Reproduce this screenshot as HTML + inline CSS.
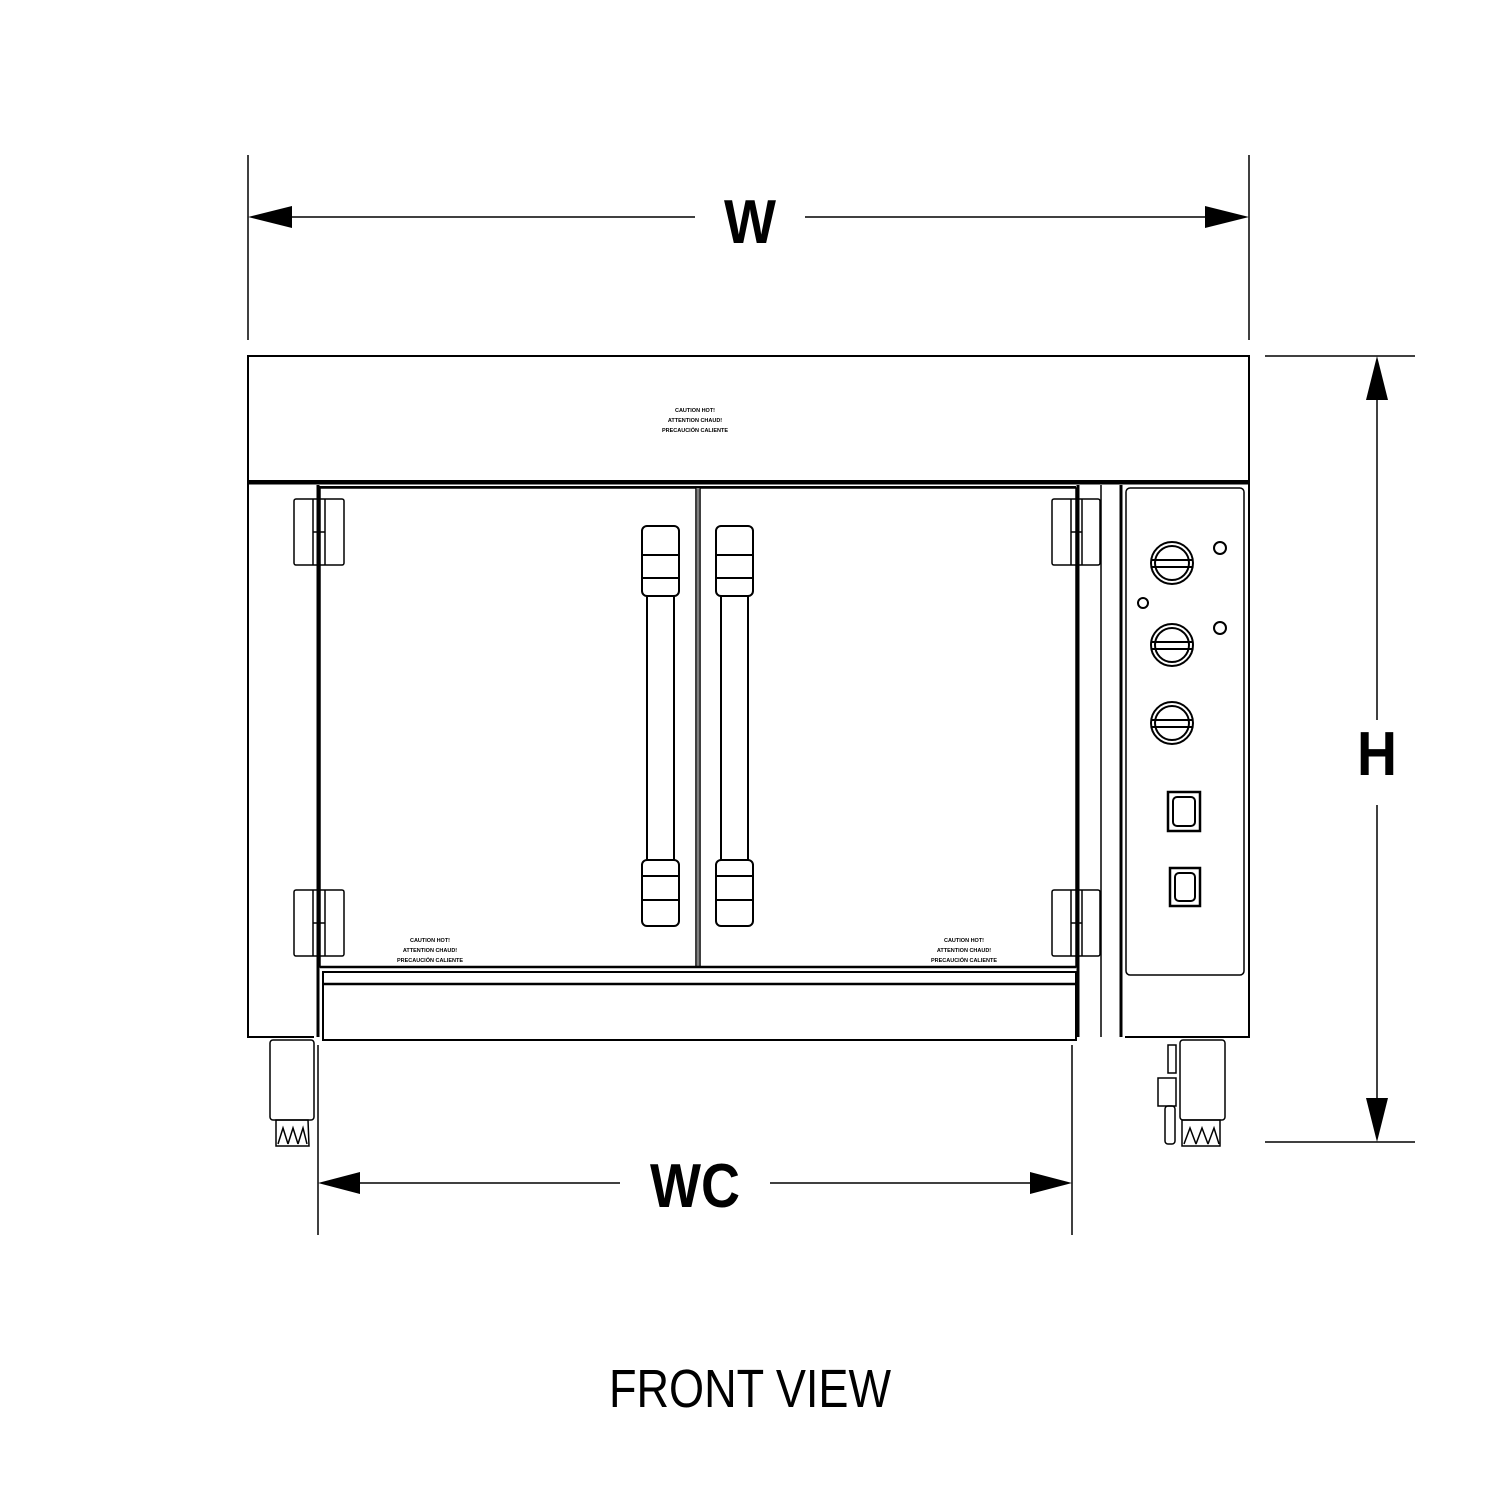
<!DOCTYPE html>
<html><head><style>html,body{margin:0;padding:0;background:#fff}svg{display:block}</style></head><body>
<svg width="1500" height="1500" viewBox="0 0 1500 1500" xmlns="http://www.w3.org/2000/svg" font-family="Liberation Sans, sans-serif">
<g stroke="#000" fill="none" stroke-width="1.5">
<line x1="248" y1="155" x2="248" y2="340"/><line x1="1249" y1="155" x2="1249" y2="340"/>
<line x1="290" y1="217" x2="695" y2="217"/><line x1="805" y1="217" x2="1207" y2="217"/>
<line x1="1265" y1="356" x2="1415" y2="356"/><line x1="1265" y1="1142" x2="1415" y2="1142"/>
<line x1="1377" y1="398" x2="1377" y2="720"/><line x1="1377" y1="805" x2="1377" y2="1100"/>
<line x1="318" y1="1045" x2="318" y2="1235"/><line x1="1072" y1="1045" x2="1072" y2="1235"/>
<line x1="358" y1="1183" x2="620" y2="1183"/><line x1="770" y1="1183" x2="1032" y2="1183"/>
</g>
<g fill="#000">
<polygon points="248,217 292,206 292,228"/><polygon points="1249,217 1205,206 1205,228"/>
<polygon points="1377,356 1366,400 1388,400"/><polygon points="1377,1142 1366,1098 1388,1098"/>
<polygon points="318,1183 360,1172 360,1194"/><polygon points="1072,1183 1030,1172 1030,1194"/>
</g>
<g font-weight="bold" text-anchor="middle" font-size="62">
<text x="750" y="243" textLength="52" lengthAdjust="spacingAndGlyphs">W</text>
<text x="1377" y="775" textLength="40" lengthAdjust="spacingAndGlyphs">H</text>
<text x="695" y="1207" textLength="90" lengthAdjust="spacingAndGlyphs">WC</text>
</g>
<text x="750" y="1407" font-size="54" text-anchor="middle" textLength="282" lengthAdjust="spacingAndGlyphs">FRONT VIEW</text>

<g stroke="#000" fill="none" stroke-width="2">
<rect x="248" y="356" width="1001" height="125"/>
<line x1="248" y1="483" x2="1249" y2="483" stroke-width="3"/>
<polyline points="248,481 248,1037 314,1037"/>
<polyline points="1249,481 1249,1037 1125,1037"/>
<line x1="318" y1="485" x2="318" y2="1037" stroke-width="3"/>
<line x1="319" y1="487" x2="1076" y2="487" stroke-width="2"/>
<rect x="320" y="488" width="376" height="479" stroke-width="1.5"/>
<rect x="700" y="488" width="376" height="479" stroke-width="1.5"/>
<line x1="698" y1="488" x2="698" y2="967" stroke-width="1"/>
<line x1="320" y1="967" x2="1076" y2="967" stroke-width="2.5"/>
<line x1="1078" y1="485" x2="1078" y2="1037" stroke-width="3"/>
<line x1="1101" y1="485" x2="1101" y2="1037" stroke-width="1.5"/>
<line x1="1121" y1="485" x2="1121" y2="1037" stroke-width="3"/>
<rect x="323" y="972" width="753" height="68"/>
<line x1="323" y1="984" x2="1076" y2="984" stroke-width="2.5"/>
<rect x="1126" y="488" width="118" height="487" rx="4" stroke-width="1.5"/>
<g stroke-width="1.5">
<rect x="294" y="499" width="50" height="66" rx="2"/><line x1="313" y1="499" x2="313" y2="565"/><line x1="325" y1="499" x2="325" y2="565"/><line x1="313" y1="532" x2="325" y2="532"/>
<rect x="294" y="890" width="50" height="66" rx="2"/><line x1="313" y1="890" x2="313" y2="956"/><line x1="325" y1="890" x2="325" y2="956"/><line x1="313" y1="923" x2="325" y2="923"/>
<rect x="1052" y="499" width="48" height="66" rx="2"/><line x1="1071" y1="499" x2="1071" y2="565"/><line x1="1082" y1="499" x2="1082" y2="565"/><line x1="1071" y1="532" x2="1082" y2="532"/>
<rect x="1052" y="890" width="48" height="66" rx="2"/><line x1="1071" y1="890" x2="1071" y2="956"/><line x1="1082" y1="890" x2="1082" y2="956"/><line x1="1071" y1="923" x2="1082" y2="923"/>
</g>
<g stroke-width="2">
<rect x="642" y="526" width="37" height="70" rx="5"/><rect x="642" y="860" width="37" height="66" rx="5"/>
<line x1="647" y1="596" x2="647" y2="860"/><line x1="674" y1="596" x2="674" y2="860"/>
<line x1="642" y1="555" x2="679" y2="555"/><line x1="642" y1="578" x2="679" y2="578"/>
<line x1="642" y1="876" x2="679" y2="876"/><line x1="642" y1="900" x2="679" y2="900"/>
<rect x="716" y="526" width="37" height="70" rx="5"/><rect x="716" y="860" width="37" height="66" rx="5"/>
<line x1="721" y1="596" x2="721" y2="860"/><line x1="748" y1="596" x2="748" y2="860"/>
<line x1="716" y1="555" x2="753" y2="555"/><line x1="716" y1="578" x2="753" y2="578"/>
<line x1="716" y1="876" x2="753" y2="876"/><line x1="716" y1="900" x2="753" y2="900"/>
</g>
<g stroke-width="2">
<circle cx="1172" cy="563" r="21"/><circle cx="1172" cy="563" r="17"/><line x1="1152" y1="560" x2="1192" y2="560"/><line x1="1152" y1="567" x2="1192" y2="567"/>
<circle cx="1172" cy="645" r="21"/><circle cx="1172" cy="645" r="17"/><line x1="1152" y1="642" x2="1192" y2="642"/><line x1="1152" y1="649" x2="1192" y2="649"/>
<circle cx="1172" cy="723" r="21"/><circle cx="1172" cy="723" r="17"/><line x1="1152" y1="720" x2="1192" y2="720"/><line x1="1152" y1="727" x2="1192" y2="727"/>
<circle cx="1220" cy="548" r="6"/><circle cx="1143" cy="603" r="5"/><circle cx="1220" cy="628" r="6"/>
<rect x="1168" y="792" width="32" height="39" stroke-width="2.5"/><rect x="1173" y="797" width="22" height="29" rx="4"/>
<rect x="1170" y="868" width="30" height="38" stroke-width="2.5"/><rect x="1175" y="873" width="20" height="28" rx="4"/>
</g>
<g stroke-width="1.5">
<rect x="270" y="1040" width="44" height="80" rx="3"/>
<path d="M276 1120 L308 1120 L309 1146 L276 1146 Z"/>
<path d="M278 1144 L283 1128 L288 1144 M288 1144 L293 1128 L298 1144 M298 1144 L303 1128 L307 1144"/>
<rect x="1180" y="1040" width="45" height="80" rx="3"/>
<path d="M1182 1120 L1220 1120 L1220 1146 L1182 1146 Z"/>
<path d="M1184 1144 L1190 1128 L1196 1144 M1196 1144 L1202 1128 L1208 1144 M1208 1144 L1214 1128 L1219 1144"/>
<rect x="1168" y="1045" width="8" height="28"/><rect x="1158" y="1078" width="18" height="28"/><rect x="1165" y="1106" width="10" height="38" rx="3"/>
</g>
</g>
<g fill="#000" font-weight="bold" font-size="5.5" text-anchor="middle">
<text x="695" y="412">CAUTION HOT!</text><text x="695" y="422">ATTENTION CHAUD!</text><text x="695" y="432">PRECAUCIÓN CALIENTE</text>
<text x="430" y="942">CAUTION HOT!</text><text x="430" y="952">ATTENTION CHAUD!</text><text x="430" y="962">PRECAUCIÓN CALIENTE</text>
<text x="964" y="942">CAUTION HOT!</text><text x="964" y="952">ATTENTION CHAUD!</text><text x="964" y="962">PRECAUCIÓN CALIENTE</text>
</g>
</svg>
</body></html>
